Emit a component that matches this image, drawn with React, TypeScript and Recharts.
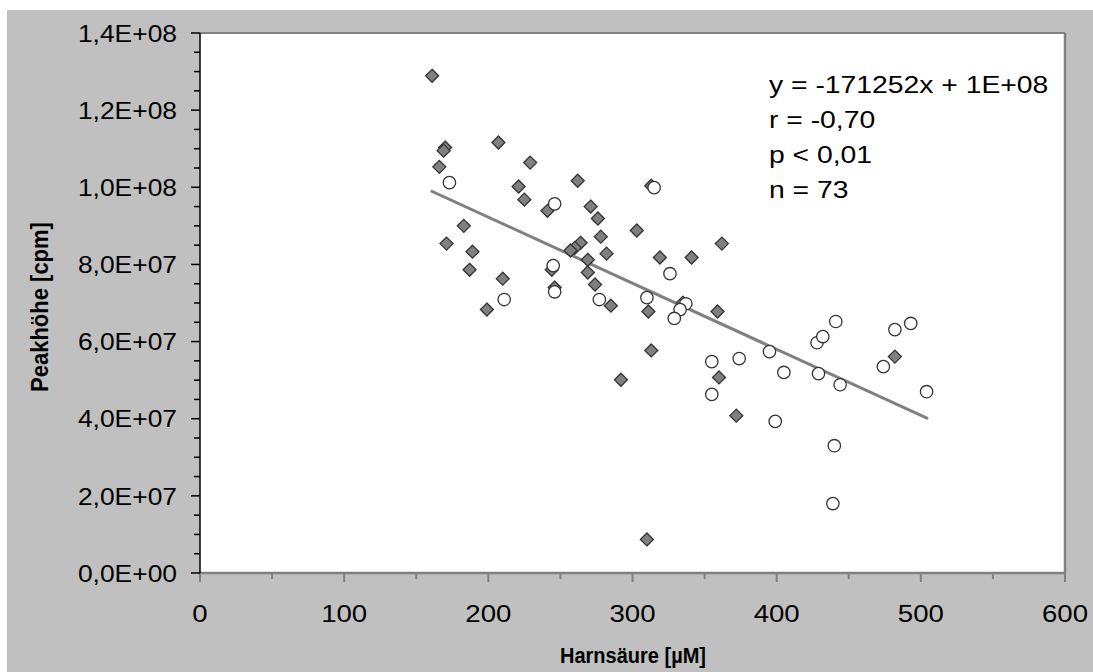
import { ReferenceArea, ReferenceLine, Scatter, ScatterChart, XAxis, YAxis } from "recharts";

// Harnsäure [µM] vs. Peakhöhe [cpm], two groups
const diamondX = [
  161, 207, 170, 169, 166, 229, 262, 221, 225, 241, 271, 276, 183, 171, 189, 187, 210, 199, 303, 278, 264, 260,
  257, 282, 269, 269, 274, 244, 246, 285, 311, 313, 362, 319, 341, 335, 359, 313, 292, 360, 372, 482, 310
];
const diamondY = [
  1.289e8, 1.116e8, 1.103e8, 1.095e8, 1.053e8, 1.064e8, 1.017e8, 1.002e8, 0.968e8, 0.939e8, 0.95e8, 0.919e8,
  0.9e8, 0.854e8, 0.833e8, 0.786e8, 0.763e8, 0.683e8, 0.888e8, 0.872e8, 0.856e8, 0.843e8, 0.836e8, 0.828e8,
  0.812e8, 0.779e8, 0.748e8, 0.786e8, 0.74e8, 0.693e8, 0.678e8, 1.004e8, 0.854e8, 0.818e8, 0.818e8, 0.701e8,
  0.678e8, 0.577e8, 0.501e8, 0.507e8, 0.408e8, 0.561e8, 0.087e8
];
const circleX = [
  173, 246, 245, 246, 211, 277, 310, 315, 326, 337, 333, 329, 355, 374, 395, 355, 405, 399, 429, 444, 440, 439,
  428, 432, 441, 482, 493, 474, 504
];
const circleY = [
  1.012e8, 0.957e8, 0.797e8, 0.729e8, 0.709e8, 0.709e8, 0.714e8, 0.999e8, 0.776e8, 0.698e8, 0.683e8, 0.66e8,
  0.548e8, 0.556e8, 0.574e8, 0.463e8, 0.52e8, 0.393e8, 0.517e8, 0.488e8, 0.33e8, 0.18e8, 0.597e8, 0.613e8,
  0.652e8, 0.631e8, 0.647e8, 0.535e8, 0.47e8
];

// regression line over all points
const slope = -171252;
const intercept = 1.265e8;
const trendX = [160, 505];

const xTicks = [0, 50, 100, 150, 200, 250, 300, 350, 400, 450, 500, 550, 600];
const yTicks = Array.from({ length: 29 }, (_, i) => i * 5e6);

const statLines = ["y = -171252x + 1E+08", "r = -0,70", "p < 0,01", "n = 73"];

const diamonds = diamondX.map((x, i) => ({ x, y: diamondY[i] }));
const circles = circleX.map((x, i) => ({ x, y: circleY[i] }));
const trend = trendX.map((x) => ({ x, y: intercept + slope * x }));

const FONT = "'Liberation Sans', Arial, sans-serif";
const STRETCH = 1.15;

function sci(v: number) {
  if (v === 0) return "0,0E+00";
  const exp = Math.floor(Math.log10(v));
  const m = (v / Math.pow(10, exp)).toFixed(1).replace(".", ",");
  return `${m}E+${String(exp).padStart(2, "0")}`;
}

const YTick = (props: any) => {
  const { x, y, payload } = props;
  const major = payload.value % 2e7 === 0;
  return (
    <g>
      <line x1={x - (major ? 9 : 6)} x2={x} y1={y} y2={y} stroke="#000" strokeWidth={1.5} />
      {major && (
        <text
          transform={`translate(${x - 23},${y}) scale(1.1,1)`}
          textAnchor="end"
          dy="0.36em"
          fontSize={24}
          fontFamily={FONT}
          fill="#000"
        >
          {sci(payload.value)}
        </text>
      )}
    </g>
  );
};

const XTick = (props: any) => {
  const { x, y, payload } = props;
  const major = payload.value % 100 === 0;
  return (
    <g>
      <line x1={x} x2={x} y1={y} y2={y + (major ? 9 : 6)} stroke="#808080" strokeWidth={2} />
      {major && (
        <text
          transform={`translate(${x},${y + 40}) scale(${STRETCH},1)`}
          textAnchor="middle"
          dy="0.36em"
          fontSize={24}
          fontFamily={FONT}
          fill="#000"
        >
          {payload.value}
        </text>
      )}
    </g>
  );
};

const Diamond = (p: any) => {
  const { cx, cy } = p;
  const r = 6.5;
  return (
    <polygon
      points={`${cx},${cy - r} ${cx + r},${cy} ${cx},${cy + r} ${cx - r},${cy}`}
      fill="#808080"
      stroke="#333"
      strokeWidth={1.3}
    />
  );
};

const Ring = (p: any) => <circle cx={p.cx} cy={p.cy} r={6.2} fill="#fff" stroke="#333" strokeWidth={1.3} />;

export default function App() {
  return (
    <div
      style={{
        position: "absolute",
        left: 7,
        top: 10,
        width: 1086,
        height: 662,
        background: "#c0c0c0",
        overflow: "hidden"
      }}
    >
      <ScatterChart width={1086} height={662} margin={{ top: 23, right: 28, left: 0, bottom: 38 }}>
        <ReferenceArea x1={0} x2={600} y1={0} y2={1.4e8} fill="#fff" fillOpacity={1} stroke="none" />
        <ReferenceLine y={1.4e8} stroke="#808080" strokeWidth={2} />
        <ReferenceLine x={600} stroke="#808080" strokeWidth={2.5} />
        <XAxis
          type="number"
          dataKey="x"
          domain={[0, 600]}
          ticks={xTicks}
          interval={0}
          height={61}
          tickSize={0}
          tickMargin={0}
          axisLine={{ stroke: "#808080", strokeWidth: 2.5 }}
          tick={<XTick />}
        />
        <YAxis
          type="number"
          dataKey="y"
          domain={[0, 1.4e8]}
          ticks={yTicks}
          interval={0}
          width={193}
          tickSize={0}
          tickMargin={0}
          axisLine={{ stroke: "#000", strokeWidth: 1.5 }}
          tick={<YTick />}
        />
        <Scatter data={trend} line={{ stroke: "#808080", strokeWidth: 3 }} shape={() => <g />} isAnimationActive={false} />
        <Scatter data={diamonds} shape={<Diamond />} isAnimationActive={false} />
        <Scatter data={circles} shape={<Ring />} isAnimationActive={false} />
      </ScatterChart>
      <svg
        width={1086}
        height={662}
        style={{ position: "absolute", left: 0, top: 0, pointerEvents: "none" }}
        fontFamily={FONT}
      >
        {statLines.map((s, i) => (
          <text key={s} transform={`translate(762,${74 + i * 35}) scale(1.18,1)`} dy="0.36em" fontSize={24}>
            {s}
          </text>
        ))}
        <text
          transform="translate(626,645) scale(1,1.1)"
          textAnchor="middle"
          dy="0.36em"
          fontSize={20}
          fontWeight="bold"
        >
          Harnsäure [µM]
        </text>
        <text
          transform="translate(32,297) rotate(-90) scale(1,1.12)"
          textAnchor="middle"
          dy="0.36em"
          fontSize={22}
          fontWeight="bold"
        >
          Peakhöhe [cpm]
        </text>
      </svg>
    </div>
  );
}
